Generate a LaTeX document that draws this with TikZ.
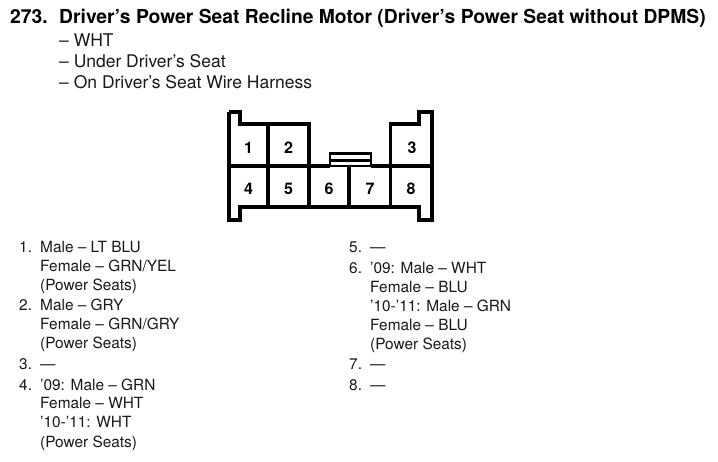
\documentclass[tikz,border=0pt]{standalone}
\usepackage{fontspec}
\setmainfont{TeX Gyre Heros}
\tikzset{x=1pt,y=-1pt,
 wire/.style={line width=3.3pt,black,line join=miter},
 thin wire/.style={line width=2.4pt,black},
 title/.style={anchor=base west,inner sep=0pt,font=\fontsize{19.3}{22}\selectfont\bfseries},
 head/.style={anchor=base west,inner sep=0pt,font=\fontsize{17.5}{21}\selectfont,text=black!90},
 body/.style={anchor=base west,inner sep=0pt,font=\fontsize{15.4}{19}\selectfont,text=black!90},
 pin/.style={anchor=center,inner sep=0pt,font=\fontsize{16}{18}\selectfont\bfseries}}
\begin{document}
\begin{tikzpicture}
\useasboundingbox (0,0) rectangle (718,462);
\fill[white] (0,0) rectangle (718,462);
\node[title] (num) at (10,23.5) {273.};
\node[title] (ttl) at (59,23.5) {Driver’s Power Seat Recline Motor (Driver’s Power Seat without DPMS)};
\node[head] (s1) at (59,47) {– WHT};
\node[head] (s2) at (59,68) {– Under Driver’s Seat};
\node[head] (s3) at (59,89) {– On Driver’s Seat Wire Harness};
% connector
\draw[wire] (229,112)--(240,112)--(240,124)--(309,124)--(309,207);
\draw[wire] (229,112)--(229,220)--(240,220)--(240,207)--(419,207)--(419,220)--(432,220)--(432,112)--(419,112)--(419,124)--(390.5,124)--(390.5,207);
\draw[wire] (229,166)--(330,166);
\draw[wire] (371,166)--(432,166);
\draw[wire] (268,124)--(268,207);
\draw[wire] (349,166)--(349,207);
\draw[thin wire] (330,166)--(330,153.5)--(371,153.5)--(371,166)--cycle;
\draw[thin wire] (330,160.5)--(371,160.5);
\node[pin] (p1) at (248.5,148) {1};
\node[pin] (p2) at (288.5,148) {2};
\node[pin] (p3) at (412,148) {3};
\node[pin] (p4) at (248.5,189) {4};
\node[pin] (p5) at (288.5,189) {5};
\node[pin] (p6) at (329,189) {6};
\node[pin] (p7) at (370,189) {7};
\node[pin] (p8) at (411,189) {8};
% left list
\node[body] (l1) at (19,253) {1.};
\node[body] (l1a) at (40,253) {Male – LT BLU};
\node[body] (l1b) at (40,272) {Female – GRN/YEL};
\node[body] (l1c) at (40,291) {(Power Seats)};
\node[body] (l2) at (19,311) {2.};
\node[body] (l2a) at (40,311) {Male – GRY};
\node[body] (l2b) at (40,330) {Female – GRN/GRY};
\node[body] (l2c) at (40,349) {(Power Seats)};
\node[body] (l3) at (19,370) {3.};
\node[body] (l3a) at (40,370) {—};
\node[body] (l4) at (19,391) {4.};
\node[body] (l4a) at (40,391) {’09: Male – GRN};
\node[body] (l4b) at (40,409) {Female – WHT};
\node[body] (l4c) at (40,428) {’10-’11: WHT};
\node[body] (l4d) at (40,447) {(Power Seats)};
% right list
\node[body] (r5) at (349,253) {5.};
\node[body] (r5a) at (370,253) {—};
\node[body] (r6) at (349,274) {6.};
\node[body] (r6a) at (370,274) {’09: Male – WHT};
\node[body] (r6b) at (370,293) {Female – BLU};
\node[body] (r6c) at (370,312) {’10-’11: Male – GRN};
\node[body] (r6d) at (370,331) {Female – BLU};
\node[body] (r6e) at (370,350) {(Power Seats)};
\node[body] (r7) at (349,370) {7.};
\node[body] (r7a) at (370,370) {—};
\node[body] (r8) at (349,391) {8.};
\node[body] (r8a) at (370,391) {—};
\end{tikzpicture}
\end{document}
